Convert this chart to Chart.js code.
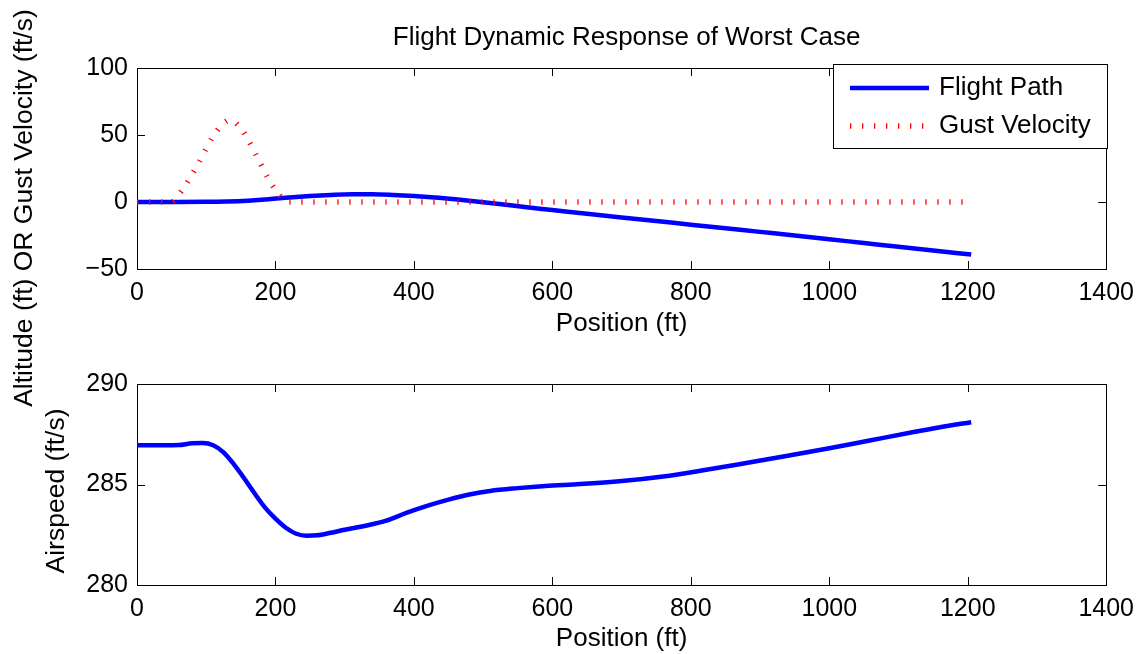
<!DOCTYPE html>
<html>
<head>
<meta charset="utf-8">
<title>Flight Dynamic Response of Worst Case</title>
<script src="https://cdn.jsdelivr.net/npm/chart.js@4.4.1/dist/chart.umd.min.js"></script>
<style>
  html, body { margin: 0; padding: 0; background: #fff; }
  #wrap { position: relative; width: 1143px; height: 654px; }
  #wrap canvas { position: absolute; left: 0; top: 0; }
</style>
</head>
<body>
<div id="wrap">
  <canvas id="speedChart" width="1143" height="654"></canvas>
  <canvas id="altChart" width="1143" height="654"></canvas>
</div>
<script>
// --- Data ---
// flight path altitude (ft) vs position (ft)
const altPos   = [0, 50, 100, 130, 160, 190, 220, 250, 280, 310, 340, 370, 400, 430, 460, 490, 520, 560, 600, 650, 700, 750, 800, 850, 900, 950, 1000, 1050, 1100, 1150, 1205];
const altitude = [0, 0, 0.1, 0.4, 1.0, 2.0, 3.4, 4.5, 5.3, 5.8, 5.8, 5.3, 4.5, 3.4, 2.0, 0.4, -1.3, -3.8, -6.0, -8.8, -11.5, -14.2, -16.9, -19.6, -22.3, -25.0, -27.8, -30.6, -33.4, -36.2, -39.2];

// gust velocity (ft/s) vs position (ft)
const gustPos = [0, 50, 56, 64, 72, 80, 90, 100, 110, 120, 130, 135, 140, 150, 160, 170, 180, 190, 200, 210, 220, 1205];
const gustVel = [0, 0, 3, 8, 14, 21, 30, 40, 49, 56, 60.5, 61, 60, 55, 47, 37, 27, 17, 9, 3, 0, 0];

// airspeed (ft/s) vs position (ft)
const speedPos = [0, 40, 60, 80, 95, 110, 125, 140, 155, 170, 185, 200, 215, 230, 245, 260, 280, 300, 330, 360, 390, 420, 450, 480, 510, 550, 590, 640, 700, 760, 820, 880, 940, 1000, 1060, 1120, 1160, 1205];
const airspeed = [286.95, 286.95, 286.96, 287.05, 287.06, 286.95, 286.6, 286.0, 285.3, 284.55, 283.85, 283.3, 282.85, 282.55, 282.45, 282.47, 282.6, 282.75, 282.95, 283.2, 283.6, 283.95, 284.25, 284.5, 284.68, 284.82, 284.93, 285.02, 285.17, 285.4, 285.72, 286.07, 286.43, 286.8, 287.2, 287.6, 287.85, 288.1];

// tick values
const posTicks   = [0, 200, 400, 600, 800, 1000, 1200, 1400];
const altTicks   = [-50, 0, 50, 100];
const speedTicks = [280, 285, 290];

const FONT = "'Liberation Sans', Arial, Helvetica, sans-serif";
const TICK_LEN = 8;

Chart.defaults.font.family = FONT;
Chart.defaults.color = '#000';
Chart.defaults.animation = false;

const toXY = (xs, ys) => xs.map((x, i) => ({ x: x, y: ys[i] }));
// plain numbers, with a real minus sign
const plain = v => String(v).replace('-', '\u2212');

// --- Plugins ---

// boxed axes with inward tick marks on all four sides
const axesBox = {
    id: 'axesBox',
    beforeDatasetsDraw(chart) {
        const { ctx, chartArea: a } = chart;
        const x = chart.scales.x, y = chart.scales.y;
        ctx.save();
        ctx.strokeStyle = '#000';
        ctx.lineWidth = 1;
        ctx.beginPath();
        x.ticks.forEach(t => {
            const px = Math.round(x.getPixelForValue(t.value)) + 0.5;
            ctx.moveTo(px, a.top); ctx.lineTo(px, a.top + TICK_LEN);
            ctx.moveTo(px, a.bottom); ctx.lineTo(px, a.bottom - TICK_LEN);
        });
        y.ticks.forEach(t => {
            const py = Math.round(y.getPixelForValue(t.value)) + 0.5;
            ctx.moveTo(a.left, py); ctx.lineTo(a.left + TICK_LEN, py);
            ctx.moveTo(a.right, py); ctx.lineTo(a.right - TICK_LEN, py);
        });
        ctx.stroke();
        ctx.strokeRect(Math.round(a.left) + 0.5, Math.round(a.top) + 0.5, Math.round(a.width), Math.round(a.height));
        ctx.restore();
    }
};

// free-standing labels: the title centred over the axes, and the rotated
// y labels (the top one is longer than its axes are tall)
const freeText = {
    id: 'freeText',
    afterDraw(chart, args, opts) {
        const ctx = chart.ctx;
        const a = chart.chartArea;
        (opts.items || []).forEach(item => {
            ctx.save();
            const x = item.x !== undefined ? item.x : (a.left + a.right) / 2 + (item.dx || 0);
            ctx.translate(x, item.y);
            if (item.rotate) ctx.rotate(-Math.PI / 2);
            ctx.font = item.size + 'px ' + FONT;
            ctx.fillStyle = '#000';
            ctx.textAlign = 'center';
            ctx.textBaseline = 'middle';
            ctx.fillText(item.text, 0, 0);
            ctx.restore();
        });
    }
};

// legend in a bordered box at the upper right of the axes
const boxLegend = {
    id: 'boxLegend',
    afterDraw(chart, args, opts) {
        if (!opts.display) return;
        const { ctx, chartArea: a } = chart;
        const w = 274, h = 84;
        const left = Math.round(a.right) + 1 - w, top = Math.round(a.top) - 4;
        ctx.save();
        ctx.fillStyle = '#fff';
        ctx.fillRect(left, top, w, h);
        ctx.strokeStyle = '#000';
        ctx.lineWidth = 1;
        ctx.strokeRect(left + 0.5, top + 0.5, w, h);
        ctx.font = '26px ' + FONT;
        ctx.textAlign = 'left';
        ctx.textBaseline = 'middle';
        chart.data.datasets.forEach((ds, i) => {
            const cy = top + 24 + i * 38;
            ctx.save();
            ctx.strokeStyle = ds.borderColor;
            ctx.lineWidth = ds.borderWidth;
            ctx.setLineDash(ds.borderDash || []);
            ctx.beginPath();
            ctx.moveTo(left + 17, cy);
            ctx.lineTo(left + 96, cy);
            ctx.stroke();
            ctx.restore();
            ctx.fillStyle = '#000';
            ctx.fillText(ds.label, left + 106, cy);
        });
        ctx.restore();
    }
};

// --- Shared axis settings ---
function posAxis(height) {
    return {
        type: 'linear',
        min: 0,
        max: 1400,
        afterBuildTicks: s => { s.ticks = posTicks.map(v => ({ value: v })); },
        afterFit: s => { s.height = height; },
        grid: { display: false, drawTicks: false },
        border: { display: false },
        ticks: { font: { size: 25 }, padding: 9, maxRotation: 0, autoSkip: false, callback: plain },
        title: { display: true, text: 'Position (ft)', font: { size: 26 }, padding: 0 }
    };
}

function valueAxis(min, max, tickList) {
    return {
        type: 'linear',
        min: min,
        max: max,
        afterBuildTicks: s => { s.ticks = tickList.map(v => ({ value: v })); },
        afterFit: s => { s.width = 137; },
        grid: { display: false, drawTicks: false },
        border: { display: false },
        ticks: { font: { size: 25 }, padding: 9, callback: plain }
    };
}

// --- Top: altitude and gust ---
new Chart(document.getElementById('altChart'), {
    type: 'line',
    data: {
        datasets: [
            {
                label: 'Flight Path',
                data: toXY(altPos, altitude),
                borderColor: '#0000ff',
                borderWidth: 4.5,
                pointRadius: 0,
                cubicInterpolationMode: 'monotone',
                order: 1
            },
            {
                label: 'Gust Velocity',
                data: toXY(gustPos, gustVel),
                borderColor: '#ff0000',
                borderWidth: 5.5,
                borderDash: [1.3, 10.7],
                pointRadius: 0,
                cubicInterpolationMode: 'monotone',
                order: 0
            }
        ]
    },
    options: {
        responsive: false,
        layout: { padding: { left: 0, right: 36, top: 68, bottom: 315 } },
        scales: {
            x: posAxis(70),
            y: valueAxis(-50, 100, altTicks)
        },
        plugins: {
            legend: { display: false },
            tooltip: { enabled: false },
            boxLegend: { display: true },
            freeText: {
                items: [
                    { text: 'Flight Dynamic Response of Worst Case', size: 26, y: 38, dx: 5 },
                    { text: 'Altitude (ft) OR Gust Velocity (ft/s)', size: 26.5, x: 25, y: 208, rotate: true }
                ]
            }
        }
    },
    plugins: [axesBox, boxLegend, freeText]
});

// --- Bottom: airspeed ---
new Chart(document.getElementById('speedChart'), {
    type: 'line',
    data: {
        datasets: [{
            label: 'Airspeed',
            data: toXY(speedPos, airspeed),
            borderColor: '#0000ff',
            borderWidth: 4.5,
            pointRadius: 0,
            cubicInterpolationMode: 'monotone'
        }]
    },
    options: {
        responsive: false,
        layout: { padding: { left: 0, right: 36, top: 384, bottom: 0 } },
        scales: {
            x: posAxis(69),
            y: valueAxis(280, 290, speedTicks)
        },
        plugins: {
            legend: { display: false },
            tooltip: { enabled: false },
            boxLegend: { display: false },
            freeText: {
                items: [
                    { text: 'Airspeed (ft/s)', size: 26.5, x: 57, y: 491, rotate: true }
                ]
            }
        }
    },
    plugins: [axesBox, boxLegend, freeText]
});
</script>
</body>
</html>
